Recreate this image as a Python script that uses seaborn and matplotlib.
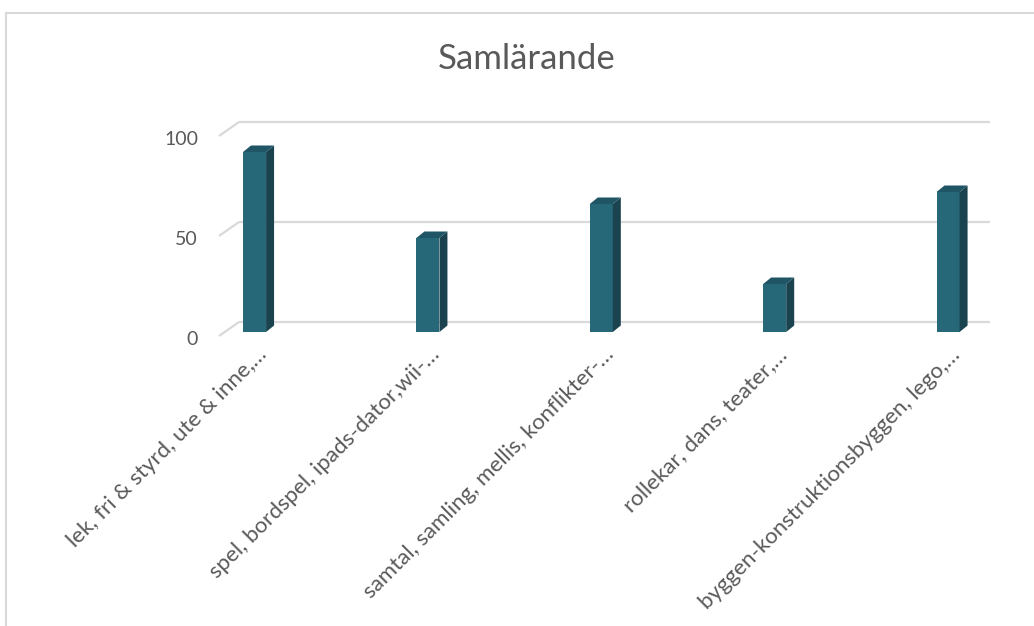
import matplotlib
matplotlib.use("Agg")
import matplotlib.pyplot as plt
import matplotlib.transforms as mtransforms
from matplotlib.patches import Polygon, Rectangle
import seaborn as sns
import pandas as pd

# ---- data ----
categories = [
    "lek, fri & styrd, ute & inne,…",
    "spel, bordspel, ipads-dator,wii-…",
    "samtal, samling, mellis, konflikter-…",
    "rollekar, dans, teater,…",
    "byggen-konstruktionsbyggen, lego,…",
]
values = [90, 47, 64, 24, 70]
yticks = [0, 50, 100]
title = "Samlärande"

FRONT = "#266878"
SIDE = "#1b434f"
TOP = "#1f5565"
GRID = "#d9d9d9"
TEXT = "#595959"

sns.set_theme(style="white")
plt.rcParams["font.family"] = ["Lato", "DejaVu Sans"]

W, H, DPI = 1034, 626, 100
fig = plt.figure(figsize=(W / DPI, H / DPI), dpi=DPI)

# axes geometry in pixels
ax_left, ax_right = 219, 990
ax_bottom_px, ax_top_px = 332, 132
ax = fig.add_axes([ax_left / W, (H - ax_bottom_px) / H,
                   (ax_right - ax_left) / W, (ax_bottom_px - ax_top_px) / H])

df = pd.DataFrame({"cat": categories, "val": values})
sns.barplot(data=df, x="cat", y="val", color=FRONT, width=0.133,
            saturation=1, ax=ax, zorder=3)

xlim = (-0.205, 4.242)
ax.set_xlim(*xlim)
ax.set_ylim(0, 100)

px_x = (ax_right - ax_left) / (xlim[1] - xlim[0])
px_y = (ax_bottom_px - ax_top_px) / 100.0

# 3D depth of bars (pixels -> data)
ddx = 8 / px_x
ddy = 6.5 / px_y
for p in list(ax.patches):
    p.set_edgecolor("none")
    x0 = p.get_x()
    x1 = x0 + p.get_width()
    h = p.get_height()
    side = Polygon([(x1, 0), (x1, h), (x1 + ddx, h + ddy), (x1 + ddx, ddy)],
                   closed=True, facecolor=SIDE, edgecolor="none",
                   zorder=3, clip_on=False)
    top = Polygon([(x0, h), (x1, h), (x1 + ddx, h + ddy), (x0 + ddx, h + ddy)],
                  closed=True, facecolor=TOP, edgecolor="none",
                  zorder=3, clip_on=False)
    ax.add_patch(side)
    ax.add_patch(top)

# 3D-style gridlines: back wall lines + diagonal floor lines
back_dx = 20 / px_x
back_dy = 10 / px_y
front_dy = -4 / px_y
for v in yticks:
    ax.plot([xlim[0] + back_dx, xlim[1]], [v + back_dy, v + back_dy],
            color=GRID, lw=1.6, zorder=1, clip_on=False, solid_capstyle="butt")
    ax.plot([xlim[0], xlim[0] + back_dx], [v + front_dy, v + back_dy],
            color=GRID, lw=1.6, zorder=1, clip_on=False, solid_capstyle="butt")

ax.set_yticks(yticks)
ax.set_yticklabels([str(v) for v in yticks])
ax.tick_params(axis="y", length=0, pad=15, labelsize=14, labelcolor=TEXT)
for lab in ax.get_yticklabels():
    lab.set_transform(lab.get_transform() +
                      mtransforms.ScaledTranslation(0, -6 / DPI, fig.dpi_scale_trans))

ax.tick_params(axis="x", length=0, pad=14, labelsize=16, labelcolor=TEXT)
for lab in ax.get_xticklabels():
    lab.set_rotation(45)
    lab.set_ha("right")
    lab.set_va("center")
    lab.set_rotation_mode("anchor")
    lab.set_transform(lab.get_transform() +
                      mtransforms.ScaledTranslation(9 / DPI, 0, fig.dpi_scale_trans))

ax.set_xlabel("")
ax.set_ylabel("")
for s in ax.spines.values():
    s.set_visible(False)
ax.set_facecolor("none")

# title
fig.text(527 / W, 1 - 59 / H, title, ha="center", va="center",
         fontsize=25, color=TEXT, fontweight="normal")

# chart frame (only top and left edges visible in the crop)
fig.patches.append(Rectangle((5.5 / W, -0.1), 1.2, (H - 12.5) / H + 0.1,
                             transform=fig.transFigure, fill=False,
                             edgecolor=GRID, lw=1.5))

fig.savefig("out.png", dpi=DPI)
